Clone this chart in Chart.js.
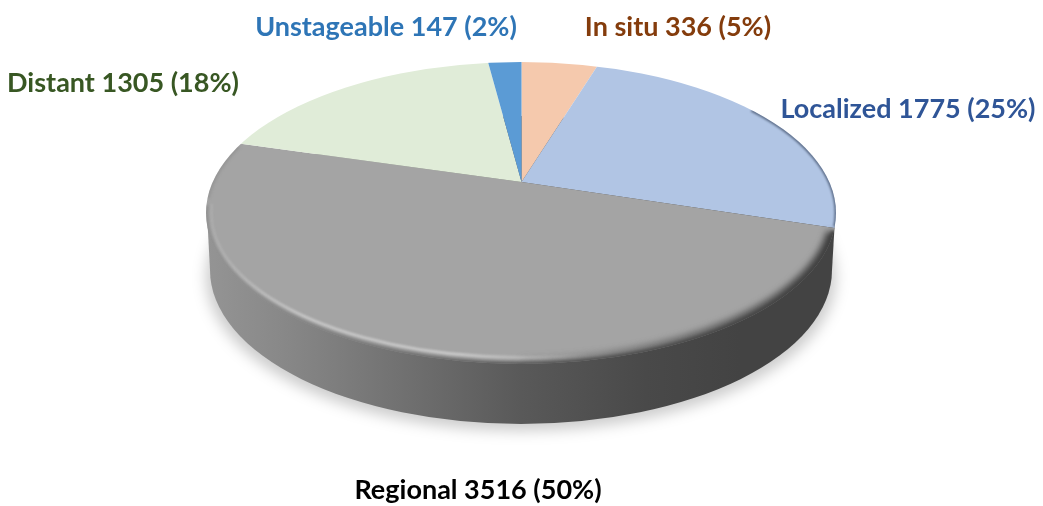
<!DOCTYPE html>
<html><head><meta charset="utf-8">
<style>html,body{margin:0;padding:0;background:#fff}canvas{display:block}</style>
<script src="https://cdn.jsdelivr.net/npm/chart.js@4/dist/chart.umd.min.js"></script>
</head><body>
<canvas id="c" width="1043" height="506"></canvas>
<script>
const categories = ['In situ', 'Localized', 'Regional', 'Distant', 'Unstageable'];
const counts = [336, 1775, 3516, 1305, 147];
const percents = [5, 25, 50, 18, 2];
const sliceColors = ['#F5C9AD', '#B1C5E4', '#A4A4A4', '#E0ECD8', '#5B9BD5'];
const labelColors = ['#843C0C', '#2F5597', '#000000', '#385723', '#2E75B6'];

// label anchors (centre x, baseline y)
const labelPos = [[678, 36], [908, 118], [478, 499], [123, 92], [386, 36]];
const FONT = '700 27px Lato, "Open Sans", sans-serif';

// projection of the pie disc
const TILT = 0.47;
const TOP = {x: 521, y: 213, rx: 315, ry: 151};
const BASE = {x: 521, y: 270, rx: 311, ry: 154};

function ell(ctx, e) {
  ctx.beginPath();
  ctx.ellipse(e.x, e.y, e.rx, e.ry, 0, 0, Math.PI * 2);
}
function rimStroke(ctx, style, width, blur, t0, t1, inset = 0) {
  ctx.save();
  ctx.filter = `blur(${blur}px)`;
  ctx.strokeStyle = style;
  ctx.lineWidth = width;
  ctx.beginPath();
  ctx.ellipse(TOP.x, TOP.y, TOP.rx - inset, TOP.ry - inset * 1.3, 0, t0, t1);
  ctx.stroke();
  ctx.restore();
}
function hGrad(ctx, x0, x1, stops) {
  const g = ctx.createLinearGradient(x0, 0, x1, 0);
  stops.forEach(([p, c]) => g.addColorStop(p, c));
  return g;
}

const disc = {
  id: 'disc',
  beforeDatasetsDraw(chart) {
    const ctx = chart.ctx;
    const a = chart.getDatasetMeta(0).data[0];
    ctx.save();
    // soft ground shadow
    ctx.save();
    ctx.filter = 'blur(7px)';
    ctx.fillStyle = 'rgba(0,0,0,0.2)';
    ell(ctx, {x: BASE.x, y: BASE.y + 7, rx: BASE.rx + 4, ry: BASE.ry});
    ctx.fill();
    ctx.restore();
    // side wall
    ctx.fillStyle = hGrad(ctx, 208, 834, [
      [0, '#949494'], [0.12, '#888888'], [0.30, '#727272'], [0.50, '#595959'],
      [0.70, '#494949'], [0.85, '#434343'], [1, '#434343']
    ]);
    ell(ctx, BASE); ctx.fill();
    ctx.beginPath();
    ctx.moveTo(TOP.x - TOP.rx + 1, TOP.y);
    ctx.lineTo(BASE.x - BASE.rx, BASE.y);
    ctx.lineTo(BASE.x + BASE.rx, BASE.y);
    ctx.lineTo(TOP.x + TOP.rx - 1, TOP.y + 6);
    ctx.closePath();
    ctx.fill();
    // face: the library's arcs, foreshortened about the apex and cut by the rim
    ell(ctx, TOP); ctx.clip();
    ctx.translate(a.x, a.y);
    ctx.scale(1, TILT);
    ctx.translate(-a.x, -a.y);
  },
  afterDatasetsDraw(chart) {
    const ctx = chart.ctx;
    ctx.restore();
    // rim bevel
    ctx.save();
    ell(ctx, TOP); ctx.clip();
    // localized and distant edges
    rimStroke(ctx, 'rgba(60,75,100,0.75)', 3, 1, -0.75, 0.09);
    rimStroke(ctx, 'rgba(120,120,120,0.35)', 4, 1.5, Math.PI + 0.1, Math.PI + 0.46);
    // dark band on the right of the regional face
    rimStroke(ctx, hGrad(ctx, 480, 830, [
      [0, 'rgba(70,70,70,0)'], [0.5, 'rgba(70,70,70,0.55)'], [1, 'rgba(65,65,65,0.95)']
    ]), 14, 3, 0.13, Math.PI * 0.5);
    // light highlight on the lower left
    rimStroke(ctx, hGrad(ctx, 206, 590, [
      [0, 'rgba(240,240,240,0.1)'], [0.25, 'rgba(240,240,240,0.45)'],
      [0.65, 'rgba(240,240,240,0.5)'], [1, 'rgba(240,240,240,0)']
    ]), 3, 1.2, Math.PI * 0.42, Math.PI * 1.02, 5);
    // lower edge shading into the wall
    rimStroke(ctx, hGrad(ctx, 206, 830, [
      [0, 'rgba(110,110,110,0.35)'], [0.2, 'rgba(100,100,100,0.6)'],
      [0.5, 'rgba(80,80,80,0.85)'], [1, 'rgba(65,65,65,0.9)']
    ]), 5, 1.5, 0.12, Math.PI + 0.05);
    ctx.restore();
    // labels
    ctx.save();
    ctx.font = FONT;
    ctx.textAlign = 'center';
    ctx.textBaseline = 'alphabetic';
    categories.forEach((name, i) => {
      ctx.fillStyle = labelColors[i];
      ctx.fillText(`${name} ${counts[i]} (${percents[i]}%)`, labelPos[i][0], labelPos[i][1]);
    });
    ctx.restore();
  }
};

new Chart(document.getElementById('c'), {
  type: 'pie',
  data: {
    labels: categories,
    datasets: [{
      data: counts,
      backgroundColor: sliceColors,
      borderWidth: 0,
      clip: false,
      radius: 430
    }]
  },
  options: {
    responsive: false,
    animation: false,
    events: [],
    rotation: 0,
    layout: {padding: {bottom: 142}},
    plugins: {legend: {display: false}, tooltip: {enabled: false}}
  },
  plugins: [disc]
});
</script>
</body></html>
